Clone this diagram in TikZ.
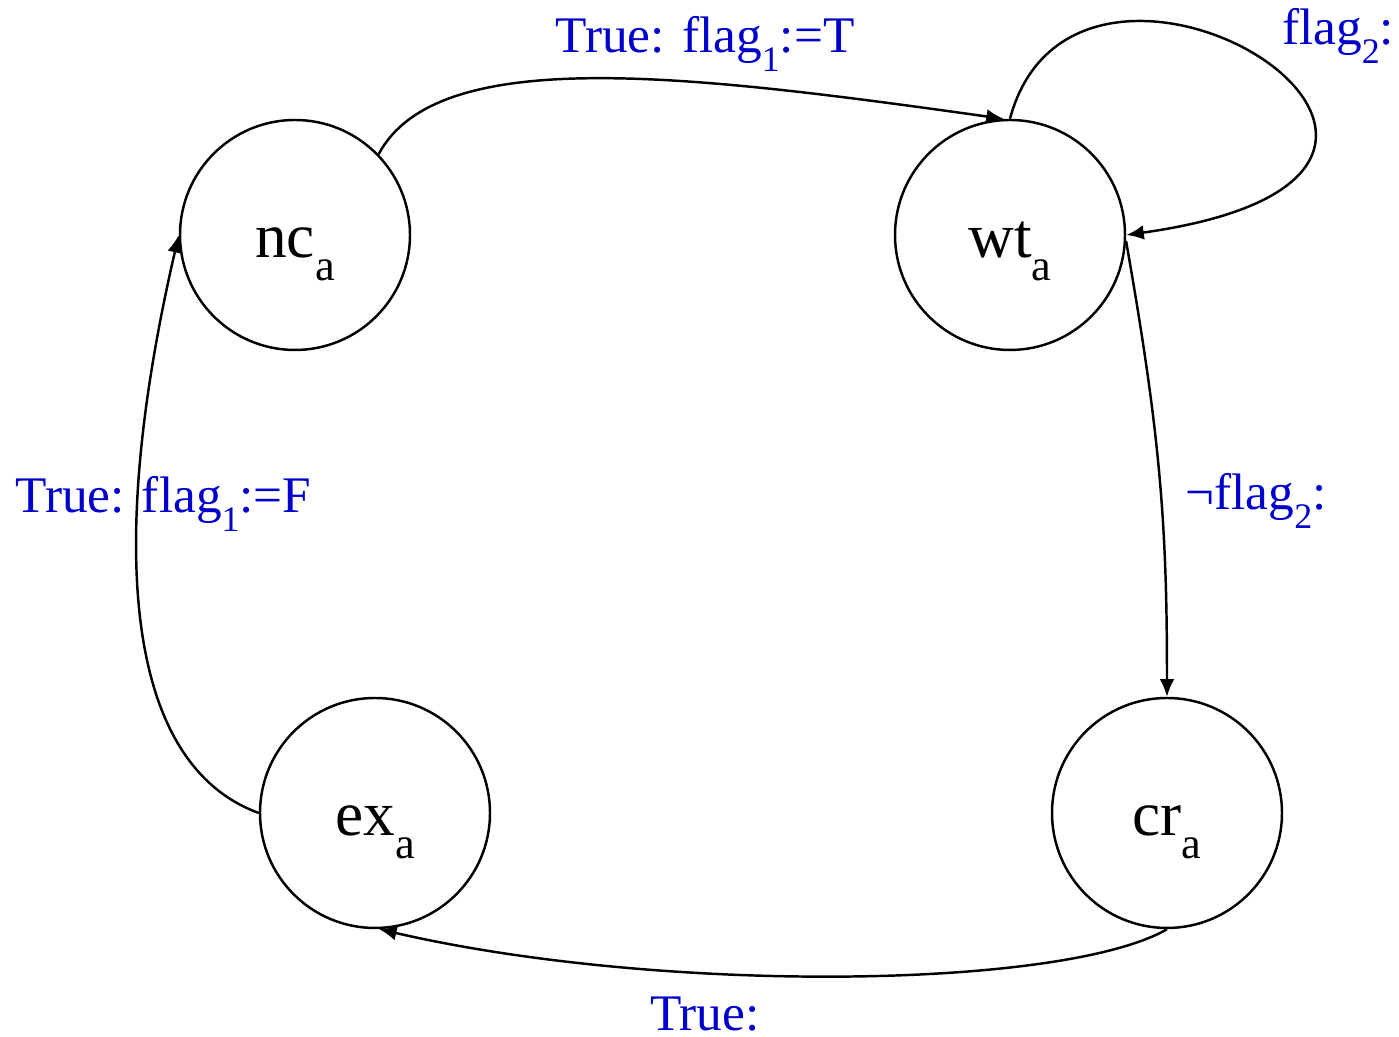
\documentclass[tikz,border=0pt]{standalone}
\usepackage{fontspec}
\setmainfont{Liberation Serif}
\usepackage{xcolor}
\usepackage{graphicx}
\usepackage{tikz}
\usetikzlibrary{arrows.meta}
\definecolor{grdbleu}{HTML}{0000CC}
\newcommand{\idx}[1]{\raisebox{-0.36em}{\scalebox{0.7}{#1}}}

\begin{document}
\begin{tikzpicture}[
  loc/.style={draw, circle, line width=0.7pt, minimum size=2.3cm, inner sep=0pt, text height=13pt, text depth=0pt, font=\fontsize{18}{20}\selectfont},
  guard/.style={text=grdbleu, inner sep=0pt, anchor=base, font=\fontsize{14.6}{17}\selectfont},
  trans/.style={line width=0.7pt, -{Latex[length=5pt,width=4.2pt]}}]
  \useasboundingbox (0,0) rectangle (13.99,10.37);
  % locations
  \node[loc] (nc) at (2.95,8.02) {nc\idx{a}};
  \node[loc] (wt) at (10.10,8.02) {wt\idx{a}};
  \node[loc] (cr) at (11.67,2.24) {cr\idx{a}};
  \node[loc] (ex) at (3.75,2.24) {ex\idx{a}};
  % transitions
  \draw[trans] (nc.44) .. controls +(62:1.25) and +(172:3.2) .. (wt.93);
  \draw[trans] (wt.north) .. controls +(75:2.6) and +(8:4.5) .. (wt.east);
  \draw[trans] (wt.-3) .. controls +(-80:2.0) and +(90:1.7) .. (cr.north);
  \draw[trans] (cr.south) .. controls +(-150:1.2) and +(-13:2.9) .. (ex.-88);
  \draw[trans] (ex.west) .. controls +(160:1.35) and +(-103:3.4) .. (nc.west);
  % gardes
  \node[guard] (g1) at (7.05,9.84) {True: flag\idx{1}:=T};
  \node[guard] (g2) at (13.38,9.92) {flag\idx{2}:};
  \node[guard] (g3) at (12.56,5.27) {¬flag\idx{2}:};
  \node[guard] (g4) at (7.05,0.06) {True:};
  \node[guard] (g5) at (1.635,5.24) {True: flag\idx{1}:=F};
\end{tikzpicture}
\end{document}
